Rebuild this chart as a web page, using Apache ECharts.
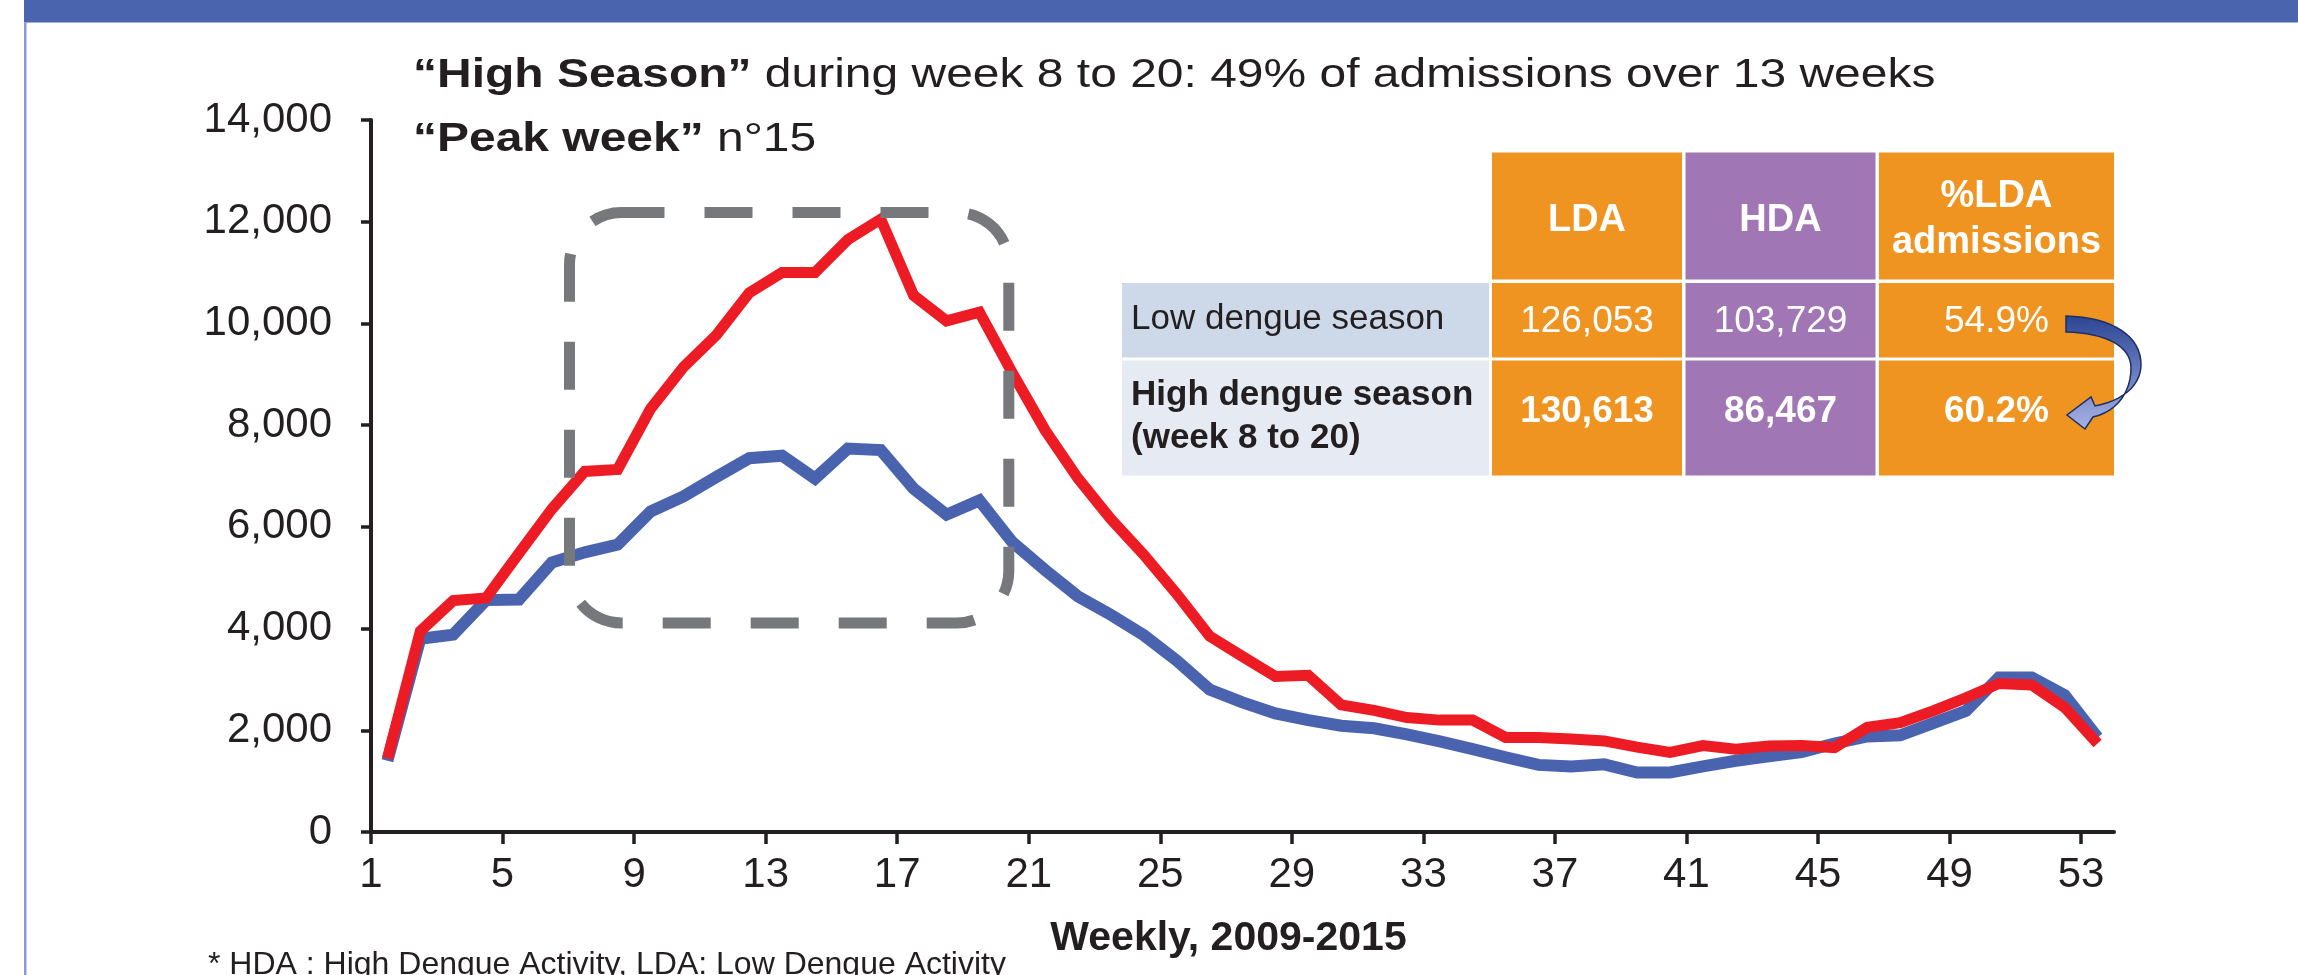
<!DOCTYPE html>
<html>
<head>
<meta charset="utf-8">
<script src="https://cdn.jsdelivr.net/npm/echarts@6/dist/echarts.min.js"></script>
<style>
html,body{margin:0;padding:0;background:#fff;}
#chart{width:2298px;height:975px;}
</style>
</head>
<body>
<div id="chart"></div>
<script>
// ---- data ----
const weeks = ['1','2','3','4','5','6','7','8','9','10','11','12','13','14','15','16','17','18','19','20',
  '21','22','23','24','25','26','27','28','29','30','31','32','33','34','35','36','37','38','39','40',
  '41','42','43','44','45','46','47','48','49','50','51','52','53'];
const xTicks = [1,5,9,13,17,21,25,29,33,37,41,45,49,53];
// red line (LDA)
const ldaWeekly = [1450,3950,4550,4600,5480,6350,7090,7130,8320,9140,9770,10600,11000,11000,11650,12050,10550,10050,10220,9030,
  7900,6950,6150,5450,4680,3850,3450,3060,3080,2500,2390,2250,2200,2200,1860,1860,1830,1790,1670,1565,
  1700,1630,1690,1700,1660,2060,2150,2380,2640,2920,2890,2450,1740];
// blue line (HDA)
const hdaWeekly = [1400,3800,3880,4560,4570,5300,5500,5650,6300,6600,6980,7350,7400,6950,7540,7510,6750,6240,6520,5700,
  5150,4630,4270,3870,3370,2800,2550,2330,2200,2090,2040,1920,1780,1630,1470,1320,1290,1330,1170,1170,
  1290,1400,1490,1570,1740,1880,1900,2140,2380,3040,3040,2690,1860];

const titleLine1Bold = '“High Season”';
const titleLine1Rest = ' during week 8 to 20: 49% of admissions over 13 weeks';
const titleLine2Bold = '“Peak week”';
const titleLine2Rest = ' n°15';
const xAxisTitle = 'Weekly, 2009-2015';
const footnote = '* HDA : High Dengue Activity, LDA: Low Dengue Activity';

const tableHeaders = ['LDA', 'HDA', '%LDA\nadmissions'];
const tableRowLabels = ['Low dengue season', 'High dengue season\n(week 8 to 20)'];
const ldaAdmissions = ['126,053', '130,613'];
const hdaAdmissions = ['103,729', '86,467'];
const pctLdaAdmissions = ['54.9%', '60.2%'];

// ---- styles ----
const FONT = "'Liberation Sans', Arial, Helvetica, sans-serif";
const INK = '#231F20';
const ORANGE = '#F09421';
const PURPLE = '#A176B4';
const RED = '#ED1C24';
const BLUE = '#4A63AE';

const chart = echarts.init(document.getElementById('chart'), null, {renderer: 'canvas'});

// table geometry
const colX = [[1122, 1489], [1492, 1682], [1685.5, 1875.5], [1879, 2114]];
const rowY = [[152.5, 279.5], [283, 357.5], [360.5, 475.5]];
const colFill = [null, ORANGE, PURPLE, ORANGE];
const labelFill = ['#CDD8E8', '#E5EAF3'];

const graphics = [];
// slide top bar and left frame line
graphics.push({type: 'rect', shape: {x: 24, y: 0, width: 2274, height: 22.5}, style: {fill: '#4A64AE'}, z: 1, silent: true});
graphics.push({type: 'rect', shape: {x: 24, y: 22.5, width: 2.5, height: 953}, style: {fill: '#8C9CD3'}, z: 1, silent: true});

// titles
function titleText(bold, rest, y) {
  return {
    type: 'text', x: 413, y: y, scaleX: 1.17, originX: 0, originY: 0, z: 5, silent: true,
    style: {
      text: '{b|' + bold + '}{r|' + rest + '}',
      verticalAlign: 'middle', align: 'left',
      rich: {
        b: {fontFamily: FONT, fontSize: 41, fontWeight: 'bold', fill: INK, lineHeight: 48},
        r: {fontFamily: FONT, fontSize: 41, fontWeight: 'normal', fill: INK, lineHeight: 48}
      }
    }
  };
}
graphics.push(titleText(titleLine1Bold, titleLine1Rest, 76));
graphics.push(titleText(titleLine2Bold, titleLine2Rest, 140));

// table header cells
for (let c = 1; c <= 3; c++) {
  graphics.push({type: 'rect', shape: {x: colX[c][0], y: rowY[0][0], width: colX[c][1] - colX[c][0], height: rowY[0][1] - rowY[0][0]},
    style: {fill: colFill[c]}, z: 5, silent: true});
  graphics.push({type: 'text', x: (colX[c][0] + colX[c][1]) / 2, y: c === 3 ? 219.5 : 221, z: 6, silent: true,
    style: {text: tableHeaders[c - 1], fontFamily: FONT, fontSize: 38, fontWeight: 'bold', fill: '#fff',
      align: 'center', verticalAlign: 'middle', lineHeight: 46.7}});
}
// table body rows
const rowValues = [ldaAdmissions, hdaAdmissions, pctLdaAdmissions];
for (let r = 0; r < 2; r++) {
  const y0 = rowY[r + 1][0], y1 = rowY[r + 1][1];
  graphics.push({type: 'rect', shape: {x: colX[0][0], y: y0, width: colX[0][1] - colX[0][0], height: y1 - y0},
    style: {fill: labelFill[r]}, z: 5, silent: true});
  graphics.push({type: 'text', x: 1131, y: r === 0 ? 319 : 417, z: 6, silent: true,
    style: {text: tableRowLabels[r], fontFamily: FONT, fontSize: 35, fontWeight: r === 0 ? 'normal' : 'bold',
      fill: INK, align: 'left', verticalAlign: 'middle', lineHeight: 43.4}});
  for (let c = 1; c <= 3; c++) {
    graphics.push({type: 'rect', shape: {x: colX[c][0], y: y0, width: colX[c][1] - colX[c][0], height: y1 - y0},
      style: {fill: colFill[c]}, z: 5, silent: true});
    graphics.push({type: 'text', x: (colX[c][0] + colX[c][1]) / 2, y: r === 0 ? 322 : 412, z: 6, silent: true,
      style: {text: rowValues[c - 1][r], fontFamily: FONT, fontSize: 37, fontWeight: r === 0 ? 'normal' : 'bold',
        fill: '#fff', align: 'center', verticalAlign: 'middle'}});
  }
}

// curved arrow from 54.9% to 60.2% (outline sampled from cubic curves)
function cubicPts(p0, p1, p2, p3, n) {
  const pts = [];
  for (let i = 0; i <= n; i++) {
    const t = i / n, u = 1 - t;
    pts.push([
      u*u*u*p0[0] + 3*u*u*t*p1[0] + 3*u*t*t*p2[0] + t*t*t*p3[0],
      u*u*u*p0[1] + 3*u*u*t*p1[1] + 3*u*t*t*p2[1] + t*t*t*p3[1]
    ]);
  }
  return pts;
}
const arrowPts = [].concat(
  cubicPts([2066,316],[2112,317],[2142,336],[2141,366], 16),
  cubicPts([2141,366],[2140,387],[2121,401],[2095,406], 12),
  [[2091,397],[2067,415],[2085,429],[2093,417]],
  cubicPts([2093,417],[2119,411],[2131,390],[2131,368], 12),
  cubicPts([2131,368],[2131,346],[2106,333],[2066,332], 16)
);
graphics.push({
  type: 'polygon', z: 8, silent: true,
  shape: {points: arrowPts},
  style: {
    fill: {type: 'linear', x: 0, y: 0, x2: 0, y2: 1, colorStops: [{offset: 0, color: '#2B4593'}, {offset: 1, color: '#A7B3E6'}]},
    stroke: '#1E2E66', lineWidth: 1.5, lineJoin: 'miter'
  }
});
// dashed rounded box around the high season
graphics.push({
  type: 'rect', z: 20, silent: true,
  shape: {x: 569.5, y: 212.5, width: 439.3, height: 410.5, r: 52},
  style: {fill: null, stroke: '#77787B', lineWidth: 11, lineDash: [48, 40], lineDashOffset: 5, lineCap: 'butt'}
});
// footnote
graphics.push({type: 'text', x: 208, y: 965, z: 5, silent: true,
  style: {text: footnote, fontFamily: FONT, fontSize: 32, fill: INK, align: 'left', verticalAlign: 'middle'}});

const option = {
  animation: false,
  backgroundColor: '#ffffff',
  grid: {left: 371, right: 184, top: 120, bottom: 143, containLabel: false},
  xAxis: [
    {
      type: 'value', min: 1, max: 54, position: 'bottom',
      name: xAxisTitle, nameLocation: 'middle', nameGap: 86,
      nameTextStyle: {fontFamily: FONT, fontSize: 41, fontWeight: 'bold', color: INK, lineHeight: 41, padding: [0, 28, 0, 0]},
      axisLine: {show: true, onZero: false, lineStyle: {color: INK, width: 4}},
      axisTick: {show: true, inside: false, length: 12, lineStyle: {color: INK, width: 3.5}, customValues: xTicks},
      axisLabel: {show: true, margin: 22, fontFamily: FONT, fontSize: 42, color: INK, customValues: xTicks,
        formatter: v => String(v)},
      splitLine: {show: false}
    },
    {
      type: 'category', data: weeks, boundaryGap: true, show: false
    }
  ],
  yAxis: {
    type: 'value', min: 0, max: 14000, interval: 2000,
    axisLine: {show: true, lineStyle: {color: INK, width: 4}},
    axisTick: {show: true, inside: false, length: 10, lineStyle: {color: INK, width: 3.5}},
    axisLabel: {margin: 39, fontFamily: FONT, fontSize: 42, color: INK, formatter: v => v.toLocaleString('en-US')},
    splitLine: {show: false}
  },
  series: [
    {
      name: 'HDA', type: 'line', xAxisIndex: 1, yAxisIndex: 0, data: hdaWeekly,
      symbol: 'none', smooth: false, z: 3,
      lineStyle: {color: BLUE, width: 12, join: 'miter', cap: 'butt'}
    },
    {
      name: 'LDA', type: 'line', xAxisIndex: 1, yAxisIndex: 0, data: ldaWeekly,
      symbol: 'none', smooth: false, z: 4,
      lineStyle: {color: RED, width: 11, join: 'miter', cap: 'butt'}
    }
  ],
  graphic: {elements: graphics}
};
chart.setOption(option);
</script>
</body>
</html>
